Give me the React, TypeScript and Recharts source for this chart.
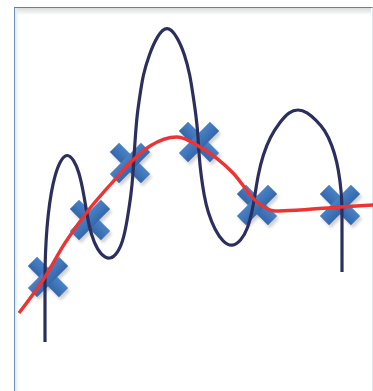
import { ComposedChart, Line, Scatter, XAxis, YAxis } from 'recharts';

// sample points (x, y) – y grows upward
const sampleX = [48, 90, 130, 199, 257, 340];
const sampleY = [114, 171, 228, 249, 186, 186];

// high-order fit that passes through every sample
const wiggleX = [
  45, 45, 45, 45, 46, 48, 51, 55, 60, 67, 74, 79, 83, 86, 89, 94, 101, 110, 118, 124,
  128, 131, 133, 134, 135.5, 137, 140, 143, 149, 157, 167, 177, 185, 190, 193, 196, 198, 199, 201, 204,
  208, 215, 223, 232, 241, 248, 252, 255, 258, 263, 270, 280, 289, 298, 307, 316, 325, 332, 337, 340,
  342, 342, 342, 342,
];
const wiggleY = [
  49, 76, 101, 126, 151, 176, 198, 216, 230, 238, 231, 219, 201, 183, 165, 148, 136, 131, 138, 153,
  176, 196, 216, 236, 256, 276, 296, 316, 336, 355, 366, 355, 336, 316, 296, 276, 256, 236, 216, 196,
  178, 161, 149, 144, 150, 163, 179, 196, 216, 236, 254, 269, 279, 282, 279, 271, 261, 246, 229, 211,
  191, 169, 145, 119,
];

// smooth fit
const smoothX = [19, 43, 65, 87, 110, 130, 150, 177, 200, 233, 257, 275, 300, 340, 373];
const smoothY = [78, 111, 148, 179, 206, 228, 245, 254, 244, 218, 189, 180, 181, 184, 186];

const W = 373;
const H = 391;

const samples = sampleX.map((x, i) => ({ x, y: sampleY[i] }));
const wiggle = wiggleX.map((x, i) => ({ x, y: wiggleY[i] }));
const smooth = smoothX.map((x, i) => ({ x, y: smoothY[i] }));

const XMark = ({ cx, cy, index }: any) => {
  const len = 44;
  const t = 13;
  const fid = `xm-shadow-${index}`;
  const arms = (fill: string, dx = 0, dy = 0, filter?: string) => (
    <g transform={`translate(${cx + dx},${cy + dy})`} filter={filter}>
      <rect x={-len / 2} y={-t / 2} width={len} height={t} fill={fill} transform="rotate(45)" />
      <rect x={-len / 2} y={-t / 2} width={len} height={t} fill={fill} transform="rotate(-45)" />
    </g>
  );
  return (
    <g>
      <defs>
        <filter id={fid} x="-50%" y="-50%" width="200%" height="200%">
          <feGaussianBlur stdDeviation="1.5" />
        </filter>
        <linearGradient id={`xm-grad-${index}`} x1="0" y1="0" x2="0" y2="1">
          <stop offset="0%" stopColor="#4a82c6" />
          <stop offset="100%" stopColor="#3467ab" />
        </linearGradient>
      </defs>
      {arms('rgba(0,0,0,0.18)', 2, 3, `url(#${fid})`)}
      {arms(`url(#xm-grad-${index})`)}
    </g>
  );
};

export default function App() {
  return (
    <div style={{ position: 'absolute', left: 0, top: 0, width: W, height: H, background: '#fff' }}>
      {/* frame */}
      <div style={{
        position: 'absolute', left: 14, top: 7, width: W - 16, height: H - 7,
        borderTop: '1px solid #5f80ad', borderLeft: '1px solid #6f91bf', borderRight: '1px solid #dde4ee',
      }} />
      <div style={{
        position: 'absolute', left: 15, top: 8, width: W - 17, height: 7,
        background: 'linear-gradient(#d7dcdc, rgba(255,255,255,0))',
      }} />
      <div style={{
        position: 'absolute', left: 15, top: 8, width: 4, height: H - 8,
        background: 'linear-gradient(90deg, #e4eaf2, rgba(255,255,255,0))',
      }} />
      <div style={{ position: 'absolute', left: 0, top: 0 }}>
        <ComposedChart width={W} height={H} margin={{ top: 0, right: 0, bottom: 0, left: 0 }}>
          <XAxis type="number" dataKey="x" domain={[0, W]} hide allowDataOverflow />
          <YAxis type="number" dataKey="y" domain={[0, H]} hide allowDataOverflow />
          <Scatter data={samples} dataKey="y" shape={<XMark />} isAnimationActive={false} zIndex={100} />
          <Line
            data={wiggle}
            dataKey="y"
            type="basis"
            stroke="#2c2f5e"
            strokeWidth={3.2}
            dot={false}
            activeDot={false}
            isAnimationActive={false}
            zIndex={400}
          />
          <Line
            data={smooth}
            dataKey="y"
            type="monotone"
            stroke="#ec3434"
            strokeWidth={3.4}
            dot={false}
            activeDot={false}
            isAnimationActive={false}
            zIndex={500}
          />
        </ComposedChart>
      </div>
    </div>
  );
}
